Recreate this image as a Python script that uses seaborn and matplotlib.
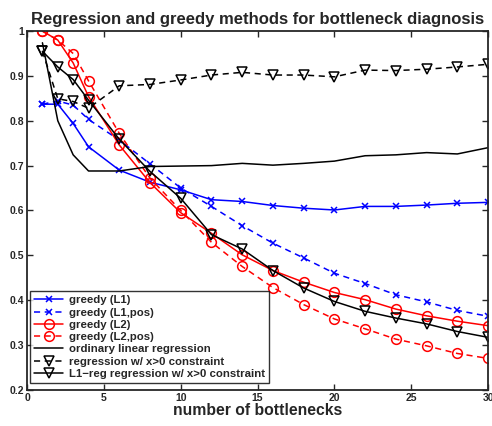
import seaborn as sns
import matplotlib.pyplot as plt
import numpy as np
import pandas as pd

# number of bottlenecks (x positions)
n_bottlenecks = [1, 2, 3, 4, 6, 8, 10, 12, 14, 16, 18, 20, 22, 24, 26, 28, 30]

greedy_l1 = [0.837, 0.837, 0.794, 0.742, 0.690, 0.663, 0.646, 0.624, 0.620,
             0.611, 0.605, 0.601, 0.609, 0.609, 0.612, 0.616, 0.618]
greedy_l1_pos = [0.837, 0.844, 0.835, 0.803, 0.757, 0.704, 0.650, 0.609, 0.566,
                 0.527, 0.494, 0.460, 0.437, 0.412, 0.396, 0.377, 0.364]
greedy_l2 = [1.000, 0.980, 0.929, 0.854, 0.746, 0.662, 0.595, 0.549, 0.501,
             0.466, 0.440, 0.417, 0.401, 0.380, 0.365, 0.353, 0.343]
greedy_l2_pos = [1.000, 0.980, 0.950, 0.889, 0.772, 0.672, 0.600, 0.529, 0.475,
                 0.428, 0.390, 0.358, 0.336, 0.313, 0.298, 0.281, 0.270]
ordinary_lr = [0.974, 0.800, 0.724, 0.688, 0.688, 0.698, 0.699, 0.700, 0.705,
               0.701, 0.705, 0.710, 0.722, 0.724, 0.729, 0.726, 0.740]
reg_pos = [0.955, 0.849, 0.843, 0.828, 0.878, 0.881, 0.891, 0.902, 0.908,
           0.902, 0.902, 0.898, 0.913, 0.912, 0.915, 0.920, 0.926]
l1reg_pos = [0.955, 0.920, 0.892, 0.846, 0.759, 0.687, 0.627, 0.546, 0.514,
             0.466, 0.427, 0.397, 0.375, 0.360, 0.347, 0.330, 0.317]

labels = ['greedy (L1)', 'greedy (L1,pos)', 'greedy (L2)', 'greedy (L2,pos)',
          'ordinary linear regression', 'regression w/ x>0 constraint',
          'L1\u2212reg regression w/ x>0 constraint']

sns.set_style('ticks')
plt.rcParams['font.family'] = ['Liberation Sans', 'DejaVu Sans']
plt.rcParams['font.weight'] = 'bold'

fig = plt.figure(figsize=(4.92, 4.26), dpi=100)
ax = fig.add_axes([0.055, 0.085, 0.937, 0.842])

series = [
    (greedy_l1, 'blue', 'x', '-', 5),
    (greedy_l1_pos, 'blue', 'x', '--', 5),
    (greedy_l2, 'red', 'o', '-', 7),
    (greedy_l2_pos, 'red', 'o', '--', 7),
    (ordinary_lr, 'black', None, '-', 0),
    (reg_pos, 'black', 'v', '--', 6.5),
    (l1reg_pos, 'black', 'v', '-', 6.5),
]

for (vals, col, mk, ls, ms), lab in zip(series, labels):
    df = pd.DataFrame({'n': n_bottlenecks, 'v': vals})
    sns.lineplot(data=df, x='n', y='v', ax=ax, color=col, marker=mk,
                 markersize=ms, markerfacecolor='none', markeredgecolor=col,
                 markeredgewidth=1.1, linewidth=1.1, label=lab,
                 **({'dashes': (4, 3)} if ls == '--' else {}))

ax.set_xlim(0, 30)
ax.set_ylim(0.2, 1)
ax.set_xticks([0, 5, 10, 15, 20, 25, 30])
ax.set_yticks([0.2, 0.3, 0.4, 0.5, 0.6, 0.7, 0.8, 0.9, 1.0])
ax.set_yticklabels(['0.2', '0.3', '0.4', '0.5', '0.6', '0.7', '0.8', '0.9', '1'])
ax.tick_params(direction='in', top=True, right=True, labelsize=7.5, length=4,
               width=1, pad=2)
for lbl in ax.get_xticklabels() + ax.get_yticklabels():
    lbl.set_fontweight('bold')
for sp in ax.spines.values():
    sp.set_linewidth(1.3)

ax.set_xlabel('number of bottlenecks', fontsize=11.3, fontweight='bold', labelpad=0)
ax.set_ylabel('')
ax.set_title('Regression and greedy methods for bottleneck diagnosis',
             fontsize=12, fontweight='bold', pad=5)

leg = ax.legend(loc='lower left', bbox_to_anchor=(0.006, 0.019), borderaxespad=0,
                fontsize=8.2, frameon=True, fancybox=False, edgecolor='black',
                handlelength=2.6, handletextpad=0.5, labelspacing=0.2,
                borderpad=0.35, numpoints=1)
leg.get_frame().set_linewidth(1.0)
for t in leg.get_texts():
    t.set_fontweight('bold')

plt.savefig('out.png', dpi=100)
